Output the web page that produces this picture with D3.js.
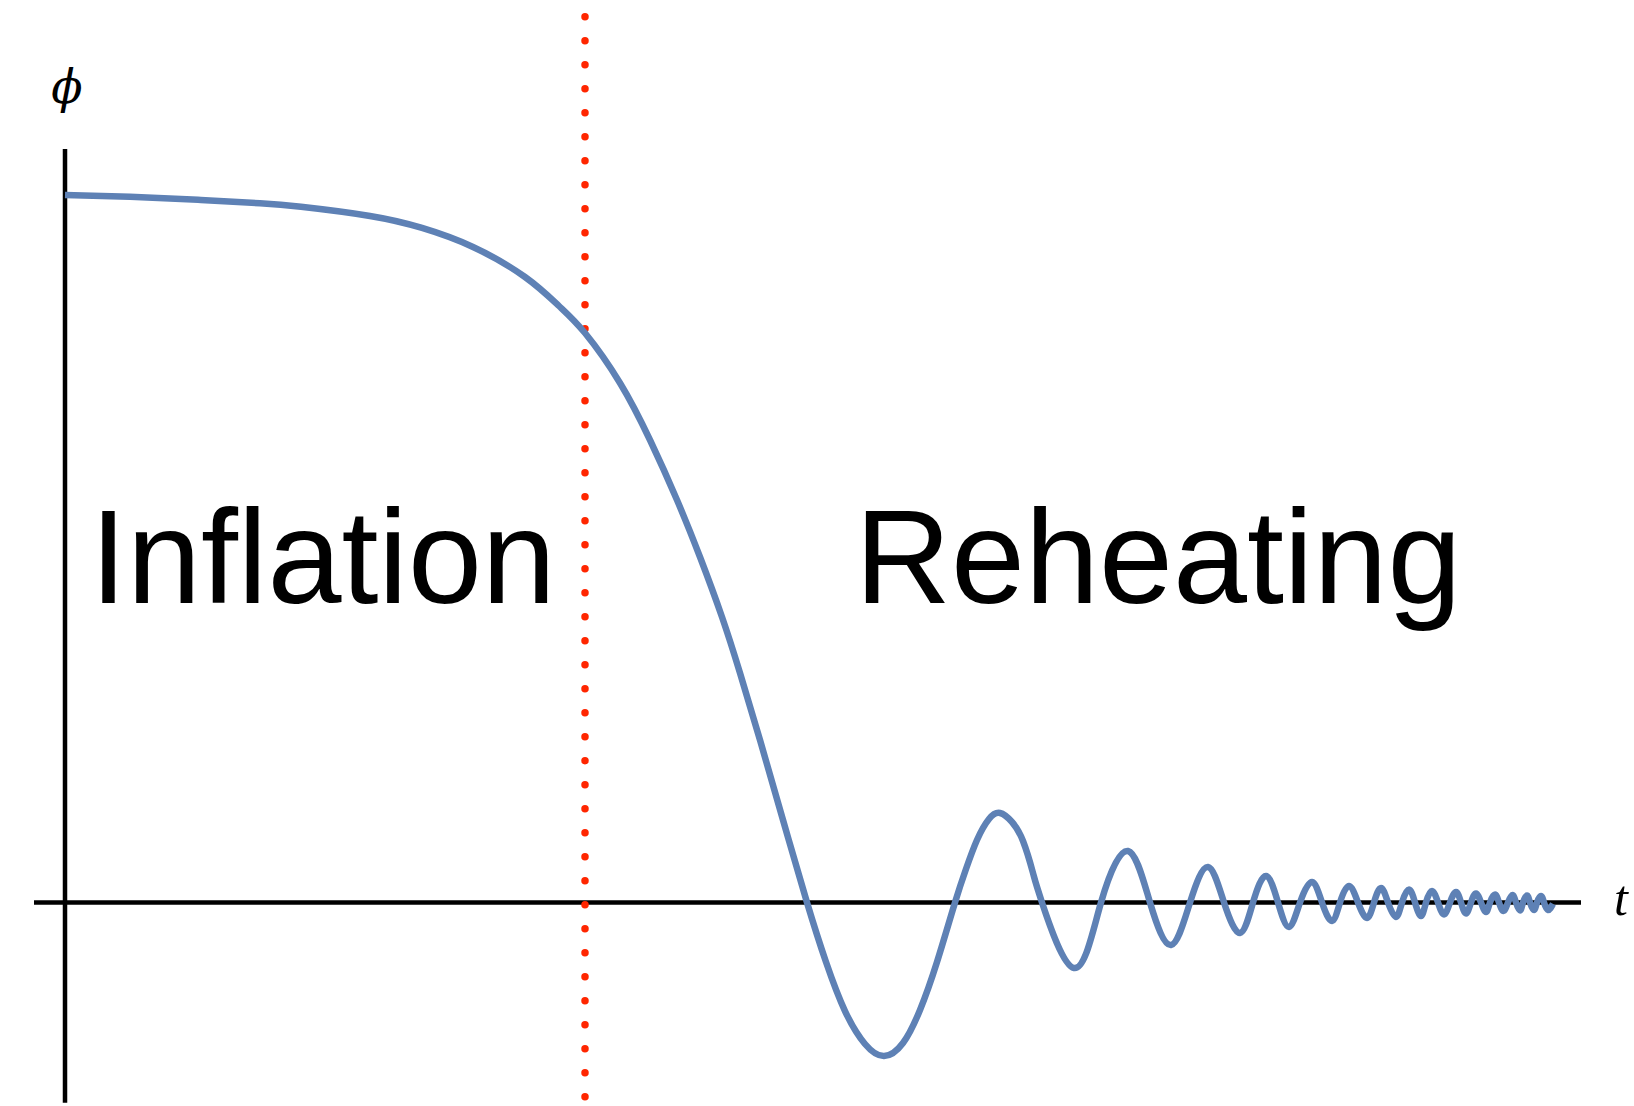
<!DOCTYPE html>
<html>
<head>
<meta charset="utf-8">
<script src="https://cdn.jsdelivr.net/npm/d3@7"></script>
<style>
  html, body { margin: 0; padding: 0; background: #fff; }
  svg { display: block; }
</style>
</head>
<body>
<svg id="chart" width="1634" height="1106"></svg>
<script>
// ---- data ----
const tValues = [0, 6.5, 13.3, 19.5, 23.6, 30.5, 35.7, 40.8, 46.0, 49.4, 52.0, 55.5, 58.5, 61.2, 63.5, 65.7, 67.5, 69.5, 71.8,
  74.2, 76.1, 78.0, 80.0, 81.9, 83.8, 85.5, 87.2, 89.0, 90.1, 91.2, 92.4, 93.5, 94.7, 95.8, 96.8, 97.7,
  100.9, 103.6, 106.3, 108.5, 110.6, 112.5, 114.3, 115.9, 117.5,
  118.8, 120.1, 121.3, 122.4, 123.5, 124.7, 125.7, 126.7, 127.5, 128.4, 129.3, 130.2, 130.9, 131.6, 132.3, 133.1,
  133.7, 134.4, 135.0, 135.6, 136.1, 136.7, 137.3, 137.9, 138.5, 139.1, 139.6, 140.1, 140.6, 141.1, 141.6, 142.1,
  142.5, 143.0, 143.4, 143.85, 144.3, 144.75, 145.1, 145.5, 145.8, 146.2, 146.5, 146.9, 147.2, 147.6, 147.9, 148.3, 148.8];
const phiValues = [100.0, 99.75, 99.32, 98.83, 98.33, 97.03, 95.34, 92.65, 88.41, 84.31, 80.49, 73.43, 65.37, 56.89, 48.83, 40.35, 32.44, 22.97, 11.66,
  0, -8.41, -15.34, -20.0, -21.70, -19.86, -15.19, -8.41, 0, 4.73, 8.83, 11.80, 12.65, 11.38, 8.69, 4.17, 0,
  -9.26, 0, 7.28, 0, -6.01, 0, 5.02, 0, -4.31,
  0, 3.75, 0, -3.46, 0, 2.90, 0, -2.61, 0, 2.33, 0, -2.19, 0, 2.05, 0, -2.05,
  0, 1.84, 0, -1.91, 0, 1.63, 0, -1.70, 0, 1.48, 0, -1.55, 0, 1.27, 0, -1.34,
  0, 1.13, 0, -1.20, 0, 1.06, 0, -1.13, 0, 0.99, 0, -1.06, 0, 0.92, 0, -1.06, -0.2];
const transitionT = 52.0;          // end of inflation (red dotted line)
const regionLabels = ["Inflation", "Reheating"];
const axisLabels = { y: "\u03D5", x: "t" };

// ---- scales ----
const svg = d3.select("#chart");
const x = d3.scaleLinear().domain([0, 148.8]).range([65, 1553]);
const y = d3.scaleLinear().domain([0, 100]).range([902.5, 195]);

const blue = "#5e81b5";
const red = "#ff2600";

// ---- axes (plain lines, no ticks) ----
svg.append("line")
  .attr("x1", x(-3.1)).attr("x2", x(151.6))
  .attr("y1", y(0)).attr("y2", y(0))
  .attr("stroke", "#000").attr("stroke-width", 4.5);

svg.append("line")
  .attr("x1", x(0)).attr("x2", x(0))
  .attr("y1", y(106.5)).attr("y2", y(-28.3))
  .attr("stroke", "#000").attr("stroke-width", 4.5);

// ---- red dotted transition line ----
svg.append("line")
  .attr("x1", x(transitionT)).attr("x2", x(transitionT))
  .attr("y1", y(125.2)).attr("y2", y(-27.6))
  .attr("stroke", red).attr("stroke-width", 7.5)
  .attr("stroke-linecap", "round")
  .attr("stroke-dasharray", "0 24");

// ---- field curve ----
const pts = tValues.map((t, i) => [t, phiValues[i]]);
const line = d3.line()
  .x(d => x(d[0]))
  .y(d => y(d[1]))
  .curve(d3.curveNatural);

svg.append("path")
  .datum(pts)
  .attr("d", line)
  .attr("fill", "none")
  .attr("stroke", blue)
  .attr("stroke-width", 6.5)
  .attr("stroke-linejoin", "round")
  .attr("stroke-linecap", "butt");

// ---- axis labels ----
svg.append("text")
  .attr("x", x(0) + 2).attr("y", 103)
  .attr("text-anchor", "middle")
  .attr("font-family", "'DejaVu Serif', 'Liberation Serif', serif")
  .attr("font-style", "italic")
  .attr("font-size", 46)
  .text(axisLabels.y);

svg.append("text")
  .attr("x", 1614).attr("y", 915)
  .attr("font-family", "'Liberation Serif', 'DejaVu Serif', serif")
  .attr("font-style", "italic")
  .attr("font-size", 50)
  .text(axisLabels.x);

// ---- region labels ----
svg.append("text")
  .attr("x", 90).attr("y", 603)
  .attr("font-family", "'Liberation Sans', Arial, sans-serif")
  .attr("font-size", 133)
  .attr("fill", "#000")
  .text(regionLabels[0]);

svg.append("text")
  .attr("x", 855).attr("y", 603)
  .attr("font-family", "'Liberation Sans', Arial, sans-serif")
  .attr("font-size", 133)
  .attr("fill", "#000")
  .text(regionLabels[1]);
</script>
</body>
</html>
